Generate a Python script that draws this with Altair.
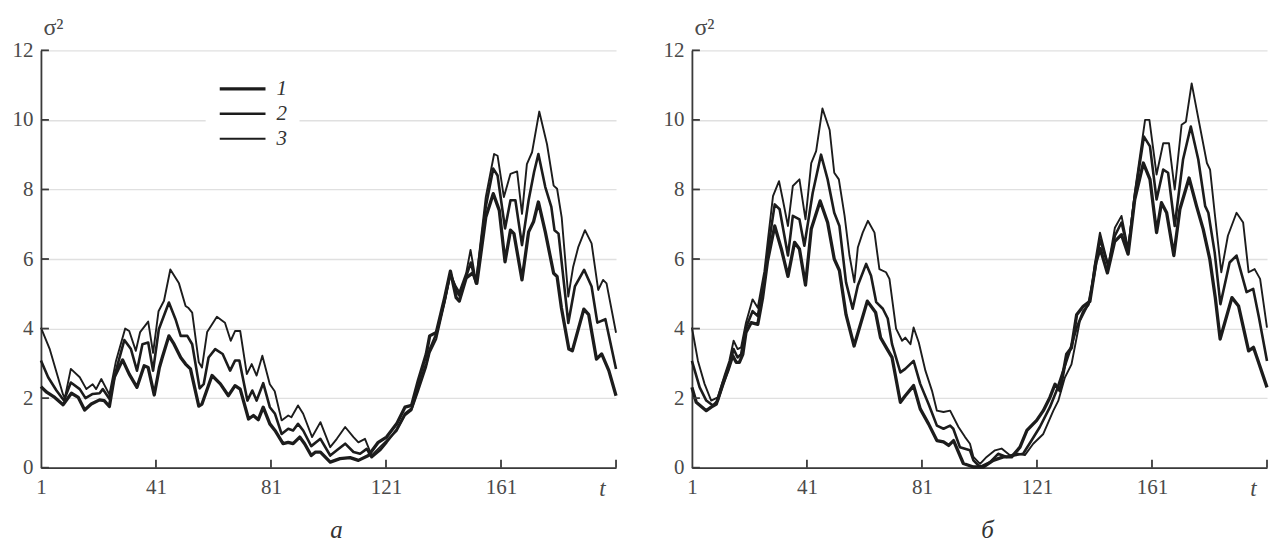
import altair as alt
import pandas as pd

# ---------------- data ----------------
# panel а
A1_T = [1, 3, 5.8, 8.7, 11.6, 14, 16.2, 18.5, 21.4, 23, 24.8, 26.5, 29.4, 31.7, 34.4, 36.9, 38.3, 40.4, 42.2, 43.2,
        45.5, 47.3, 49.6, 51.3, 53, 55.9, 57, 60.5, 63.4, 66.2, 68.5, 70.3, 73.2, 74.9, 76.6, 78.3, 80.6, 82.4, 85.2, 87,
        88.7, 91, 92.7, 95, 96.5, 98.2, 101.6, 105, 108.5, 111.4, 114.9, 118.3, 121.2, 124.7, 127.6, 129.9, 132.2, 135,
        136.2, 138.5, 141.4, 143.4, 145.4, 146.5, 148.9, 151.2, 152.6, 155.7, 158.3, 160.4, 162.4, 164.3, 165.5, 168.3,
        170.6, 172.3, 174, 176.4, 179.3, 180.5, 182, 184.6, 185.8, 189.8, 191.5, 194.2, 196, 198.5, 201]
A1_V = [2.33, 2.17, 2.02, 1.81, 2.14, 2.02, 1.66, 1.83, 1.95, 1.93, 1.76, 2.6, 3.1, 2.69, 2.31, 2.93, 2.88, 2.09, 2.88, 3.17,
        3.79, 3.55, 3.17, 2.98, 2.84, 1.77, 1.83, 2.65, 2.41, 2.07, 2.36, 2.26, 1.4, 1.5, 1.38, 1.74, 1.26, 1.07, 0.69, 0.73,
        0.69, 0.88, 0.69, 0.35, 0.45, 0.45, 0.16, 0.26, 0.29, 0.21, 0.35, 0.73, 0.88, 1.26, 1.74, 1.79, 2.5, 3.27,
        3.79, 3.89, 4.89, 5.65, 4.89, 4.79, 5.46, 5.6, 5.3, 7.2, 7.88, 7.4, 5.92, 6.83, 6.73, 5.4,
        6.78, 7.07, 7.64, 6.78, 5.59, 5.5, 4.6, 3.41, 3.36, 4.56, 4.4, 3.12, 3.27, 2.79, 2.07]

A2_T = [1, 3.5, 6.4, 9, 11.4, 14.5, 16.5, 19, 21.4, 22.5, 24.8, 27.1, 30, 32.3, 34.4, 36.3, 38.3, 40, 42, 45.5, 47.8,
        49.6, 51.9, 53.6, 56.2, 57.6, 59.3, 61.6, 64.2, 66.8, 68.5, 70, 72.8, 74.5, 76, 78.3, 80.6, 82.4, 84.7, 87, 88.7,
        90.4, 92.2, 95, 98.2, 101.6, 103.9, 106.8, 109.7, 112, 114.3, 116, 118.9, 121.2, 124.7, 127.6, 129.9, 132.2, 135,
        136.2, 138.5, 141.4, 143.4, 145.4, 146.5, 148.9, 150.5, 152.3, 155.7, 158.3, 159.8, 162.4, 164.3, 166, 168.3,
        170.6, 172.5, 174, 176.4, 178.5, 179.6, 181, 184.4, 186.7, 189.9, 192.5, 194.5, 197.3, 201]
A2_V = [3.08, 2.6, 2.22, 1.93, 2.45, 2.26, 2.0, 2.12, 2.14, 2.26, 1.98, 2.79, 3.67, 3.41, 2.79, 3.55, 3.6, 2.79, 3.98, 4.75, 4.27,
        3.79, 3.79, 3.55, 2.28, 2.4, 3.17, 3.41, 3.27, 2.79, 3.08, 3.08, 1.93, 2.22, 1.93, 2.43, 1.74, 1.55, 0.97, 1.12, 1.07,
        1.26, 1.07, 0.62, 0.83, 0.35, 0.5, 0.69, 0.45, 0.4, 0.54, 0.3, 0.5, 0.73, 1.1, 1.55, 1.7, 2.3, 3.0,
        3.4, 3.85, 4.8, 5.6, 5.1, 4.95, 5.5, 5.9, 5.3, 7.5, 8.6, 8.4, 6.88, 7.69, 7.69, 6.4,
        7.69, 8.5, 9.02, 8.07, 7.5, 6.83, 6.73, 4.16, 5.21, 5.69, 5.21, 4.17, 4.27, 2.84]

A3_T = [1, 4.1, 8.7, 9.3, 11.4, 14.5, 16.8, 19, 20.2, 22, 24.8, 27.1, 30.3, 31.7, 34, 35.5, 38.3, 40, 41.9, 43.8, 46, 49,
        51.3, 52.2, 53.6, 55.9, 57, 58.8, 62.2, 65, 67, 68.5, 70.3, 72.6, 74.3, 76, 78, 80.6, 82.3, 84.7, 87, 88.1, 90.4,
        92.2, 95.3, 98.2, 101.6, 103.9, 106.8, 109.7, 111.4, 113.7, 116, 118.9, 121.2, 124.7, 127.6, 129.9, 132.2, 135,
        136.2, 138.5, 141.4, 143.4, 145.4, 146.5, 148.9, 150.4, 152.3, 155.7, 158.6, 159.8, 162, 164.3, 166.6, 168.3, 170,
        171.8, 174.3, 177, 179.3, 180.5, 182.1, 184.4, 186.1, 187.9, 190.2, 192.5, 194.8, 196.5, 197.7, 201]
A3_V = [4.03, 3.4, 2.1, 2.0, 2.84, 2.6, 2.26, 2.4, 2.26, 2.55, 2.1, 3.07, 4.0, 3.93, 3.36, 3.9, 4.2, 3.3, 4.5, 4.8, 5.7, 5.3,
        4.65, 4.6, 4.46, 3.03, 2.88, 3.9, 4.34, 4.17, 3.65, 3.93, 3.93, 2.69, 2.98, 2.65, 3.22, 2.4, 2.2, 1.36, 1.5, 1.45, 1.79,
        1.55, 0.88, 1.31, 0.59, 0.83, 1.17, 0.88, 0.73, 0.83, 0.35, 0.59, 0.78, 1.05, 1.5, 1.65, 2.2, 2.9,
        3.3, 3.7, 4.75, 5.55, 5.2, 5.05, 5.6, 6.26, 5.35, 7.78, 9.02, 8.97, 7.78, 8.45, 8.52, 7.3, 8.73,
        9.07, 10.24, 9.3, 8.11, 8.02, 7.2, 4.92, 5.78, 6.35, 6.83, 6.45, 5.11, 5.4, 5.3, 3.88]

# panel б
B1_T = [1, 2.5, 6, 7.7, 9.5, 11.7, 13.5, 15.2, 16.4, 17.5, 18.7, 19.8, 21.6, 23.9, 25.6, 27.3, 29.8, 32.1, 34.4, 36.7,
        38.4, 40.5, 42.5, 45.6, 48.2, 50.5, 52.3, 54.6, 57.4, 62, 64.9, 66.6, 68.9, 70.6, 73.5, 75.2, 78.1, 80.4, 83.3,
        86.2, 88.5, 90.3, 92, 95.4, 98.9, 102.4, 105.8, 109.3, 112.2, 115.1, 117.5, 120.9, 123.2, 125.5, 127.3, 129,
        131.3, 133, 134.8, 137.1, 139.4, 141.5, 143, 145.5, 148, 150.4, 152.7, 155, 158, 160.3, 162.6, 164.3, 166.1,
        168.6, 170.7, 173.9, 176.5, 178.8, 181.1, 183, 184.7, 188.8, 191.1, 194.6, 196.3, 197.5, 201]
B1_V = [2.31, 1.88, 1.64, 1.74, 1.83, 2.41, 2.79, 3.22, 3.03, 3.03, 3.26, 3.89, 4.17, 4.12, 4.89, 5.94, 6.95, 6.29, 5.5, 6.48,
        6.29, 5.25, 6.86, 7.67, 7.05, 6.0, 5.67, 4.4, 3.5, 4.79, 4.46, 3.74, 3.41, 3.17, 1.88, 2.07, 2.36, 1.69, 1.26,
        0.78, 0.74, 0.64, 0.78, 0.12, 0.02, 0.02, 0.21, 0.31, 0.31, 0.59, 1.07, 1.36, 1.64, 2.02, 2.4, 2.21,
        3.26, 3.45, 4.4, 4.64, 4.78, 5.9, 6.3, 5.6, 6.5, 6.7, 6.14, 7.71, 8.76, 8.29, 6.76, 7.62, 7.33,
        6.1, 7.43, 8.33, 7.52, 6.86, 6.0, 4.9, 3.7, 4.89, 4.65, 3.36, 3.46, 3.17, 2.31]

B2_T = [1, 3.7, 6, 8.3, 10, 12.3, 14, 15.5, 16.9, 18.1, 19.8, 22.1, 23.9, 26.2, 27.5, 29.8, 31.5, 34.4, 36.1, 38.4, 40.1,
        43, 45.9, 48.2, 50.5, 52.3, 54.6, 56.9, 58.7, 61.6, 63.3, 65.1, 67.4, 69.1, 70.6, 73.5, 75.2, 78.1, 80.4, 83.3,
        86.2, 88.5, 90.8, 91.9, 94.2, 97.7, 98.9, 101.2, 104.7, 107.5, 110.4, 113.3, 116.2, 119.1, 122, 125.5, 127.8,
        130.1, 132.4, 134.8, 137.1, 138.9, 141, 142.9, 145.8, 148.1, 150.4, 152.7, 155, 158.2, 160.3, 162.6, 164.9,
        166.6, 168.9, 171.8, 174.5, 177.1, 179.5, 180.6, 182.8, 184.8, 188, 190.4, 193.9, 196.2, 198.2, 201]
B2_V = [3.07, 2.31, 1.93, 1.79, 1.93, 2.5, 2.93, 3.41, 3.17, 3.26, 4.03, 4.5, 4.36, 5.37, 6.3, 7.57, 7.43, 6.1, 7.24, 7.14, 6.38,
        7.9, 9.0, 8.29, 7.33, 6.95, 5.33, 4.57, 5.24, 5.86, 5.52, 4.76, 4.57, 4.29, 3.55, 2.74, 2.84, 3.07, 2.41, 1.83,
        1.21, 1.12, 1.21, 1.12, 0.59, 0.5, 0.21, 0.02, 0.16, 0.4, 0.31, 0.36, 0.4, 0.78, 1.17, 1.74, 2.21,
        2.78, 3.35, 4.02, 4.5, 4.69, 5.6, 6.57, 5.8, 6.67, 7.05, 6.24, 7.81, 9.52, 9.24, 7.71, 8.57,
        8.48, 6.95, 8.86, 9.81, 8.86, 7.52, 7.33, 6.19, 4.7, 5.9, 6.1, 5.05, 5.14, 4.32, 3.07]

B3_T = [1, 3.1, 5.4, 7.7, 10, 12.3, 14, 15.5, 16.9, 18.1, 19.8, 22.1, 23.9, 26.2, 27.5, 29.2, 31.3, 32.6, 34.4, 36.1,
        38.4, 40.5, 42.5, 44.2, 46.4, 48.9, 50.5, 52.1, 54.1, 55.8, 57.5, 58.7, 60.4, 62.2, 64.5, 66.2, 68.5, 69.7, 72,
        74.1, 75.2, 77, 78.1, 79.9, 82.2, 84.5, 86.2, 88.5, 90.8, 93.7, 96, 97.7, 98.9, 101.2, 103.5, 106.4, 108.7, 111.6,
        114.5, 116.8, 119.7, 123.2, 126.7, 128.4, 130.7, 133, 135.9, 138.2, 139.4, 141, 142.9, 145.8, 148.1, 150.4, 152.7,
        155, 158.6, 160.1, 162.6, 164.9, 166.9, 168.9, 171.3, 172.8, 174.8, 177.1, 180.1, 181.2, 182.8, 185.1, 187.4,
        190.4, 192.7, 194.6, 196.7, 198.6, 201]
B3_V = [4.03, 3.07, 2.41, 1.93, 2.02, 2.64, 3.07, 3.65, 3.41, 3.46, 4.17, 4.84, 4.6, 5.65, 6.6, 7.81, 8.24, 7.71, 6.95, 8.1,
        8.29, 7.14, 8.76, 9.1, 10.33, 9.71, 8.48, 8.29, 7.24, 6.1, 5.33, 6.33, 6.76, 7.1, 6.76, 5.71, 5.62, 5.43, 4.0,
        3.65, 3.74, 3.55, 4.03, 3.6, 2.79, 2.21, 1.64, 1.6, 1.64, 1.17, 0.88, 0.69, 0.31, 0.11, 0.31, 0.5, 0.55, 0.36,
        0.4, 0.36, 0.69, 0.97, 1.64, 1.92, 2.59, 2.97, 4.21, 4.59, 4.78, 5.8, 6.76, 5.81, 6.9, 7.24, 6.29,
        7.9, 10.0, 10.0, 8.43, 9.33, 9.33, 8.0, 9.86, 9.95, 11.05, 10.05, 8.76, 8.57, 7.33, 5.62, 6.67,
        7.33, 7.05, 5.62, 5.71, 5.43, 4.03]

SERIES = ["1", "2", "3"]
X_TICKS = [1, 41, 81, 121, 161]
X_TICKS_ALL = [41, 81, 121, 161, 201]
Y_TICKS = [0, 2, 4, 6, 8, 10, 12]
PANEL_LABELS = ["а", "б"]

# ---------------- styling ----------------
W, H = 576, 418
SERIF = "Liberation Serif"
INK = "#1c1c1c"
AXIS = "#3a3a3a"
TXT = "#4a4a4a"
X_MIN, X_MAX = 1, 201

XSCALE = alt.Scale(domain=[X_MIN, X_MAX], nice=False, zero=False)
YSCALE = alt.Scale(domain=[0, 12], nice=False, zero=True)
XAXIS = alt.Axis(
    orient="bottom", values=X_TICKS, ticks=False, grid=False,
    domainColor=AXIS, domainWidth=1.8, labelFont=SERIF, labelFontSize=21,
    labelColor=TXT, labelPadding=9, labelFlush=False,
    title="t", titleFont=SERIF, titleFontStyle="italic", titleFontWeight="normal",
    titleFontSize=23, titleColor=TXT, titleX=562, titleY=28,
    titleAlign="center", titleBaseline="alphabetic")
YAXIS = alt.Axis(
    orient="left", values=Y_TICKS, ticks=False, grid=True,
    gridColor="#e0e0e0", gridWidth=1.3, domainColor=AXIS, domainWidth=1.8,
    labelFont=SERIF, labelFontSize=21, labelColor=TXT, labelPadding=8,
    format="d", title="σ²", titleFont=SERIF, titleFontSize=24,
    titleFontWeight="normal", titleColor=TXT, titleAngle=0, titleX=2,
    titleY=-16, titleAlign="left", titleBaseline="alphabetic")


def make_df(pairs):
    frames = []
    for name, (ts, vs) in zip(SERIES, pairs):
        frames.append(pd.DataFrame({"t": ts, "v": vs, "s": name}))
    return pd.concat(frames, ignore_index=True)


def xy():
    return dict(x=alt.X("t:Q", scale=XSCALE, axis=XAXIS),
                y=alt.Y("v:Q", scale=YSCALE, axis=YAXIS))


def panel(df, label, with_legend):
    swscale = alt.Scale(domain=SERIES, range=[3.3, 1.9, 1.45])
    if with_legend:
        leg = alt.Legend(orient="none", legendX=165, legendY=14, title=None,
                         symbolType="stroke", symbolSize=2100, symbolStrokeColor=INK,
                         labelFont=SERIF, labelFontStyle="italic", labelFontSize=21,
                         labelColor="#333", labelOffset=9, fillColor="white",
                         padding=12, rowPadding=0, clipHeight=25)
    else:
        leg = None

    thin = alt.Chart(df).transform_filter("datum.s != '1'").mark_line(
        color=INK, strokeJoin="round"
    ).encode(
        strokeWidth=alt.StrokeWidth("s:N", scale=swscale, legend=leg),
        detail="s:N",
        order=alt.Order("t:Q"),
        **xy(),
    )

    thick = alt.Chart(df).transform_filter("datum.s == '1'").mark_line(
        color=INK, strokeJoin="round"
    ).encode(
        strokeWidth=alt.StrokeWidth("s:N", scale=swscale, legend=leg),
        order=alt.Order("t:Q"),
        **xy(),
    )

    # inward-pointing ticks, placed through the scales
    ytick_df = pd.DataFrame({"t": [X_MIN] * len(Y_TICKS), "v": Y_TICKS})
    xtick_df = pd.DataFrame({"t": X_TICKS_ALL, "v": [0] * len(X_TICKS_ALL)})
    yticks = alt.Chart(ytick_df).mark_tick(
        orient="horizontal", size=8, thickness=1.8, xOffset=4, color=AXIS, opacity=1
    ).encode(**xy())
    xticks = alt.Chart(xtick_df).mark_tick(
        orient="vertical", size=8, thickness=1.8, yOffset=-4, color=AXIS, opacity=1
    ).encode(**xy())

    return alt.layer(thin, thick, yticks, xticks).properties(
        width=W, height=H,
        title=alt.TitleParams(label, orient="bottom", anchor="middle", frame="group",
                              font=SERIF, fontStyle="italic", fontWeight="normal",
                              fontSize=25, color="#333", offset=17, dx=8),
    )


df_a = make_df([(A1_T, A1_V), (A2_T, A2_V), (A3_T, A3_V)])
df_b = make_df([(B1_T, B1_V), (B2_T, B2_V), (B3_T, B3_V)])

chart = alt.hconcat(
    panel(df_a, PANEL_LABELS[0], True),
    panel(df_b, PANEL_LABELS[1], False),
    spacing=45,
).resolve_scale(strokeWidth="independent").resolve_legend(strokeWidth="independent").properties(
    padding={"left": 12, "top": 15, "right": 0, "bottom": 0},
    background="white",
).configure_view(stroke=None)

chart.save("out.html", embed_options={"renderer": "svg", "actions": False})
